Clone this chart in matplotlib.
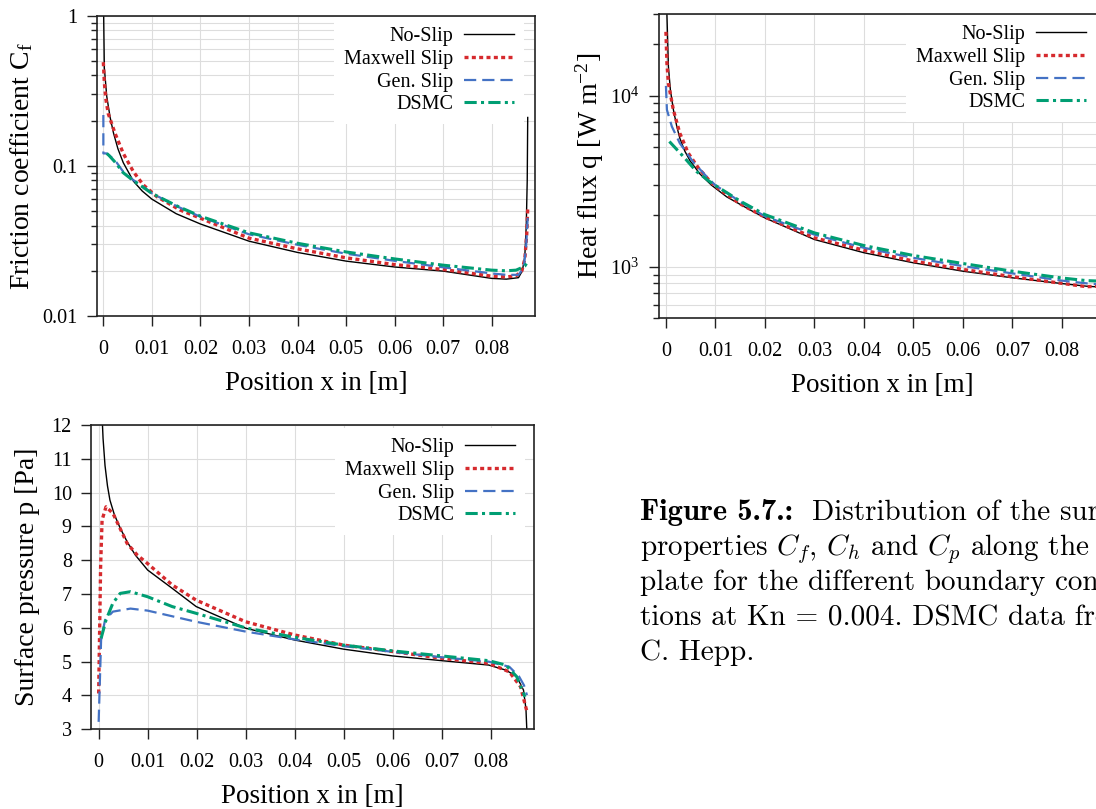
import numpy as np
import matplotlib
matplotlib.use("Agg")
import matplotlib.pyplot as plt
from matplotlib.ticker import LogLocator, NullFormatter

plt.rcParams['font.family'] = ['Liberation Serif', 'DejaVu Serif']
plt.rcParams['mathtext.fontset'] = 'custom'
plt.rcParams['mathtext.rm'] = 'Liberation Serif'
plt.rcParams['mathtext.it'] = 'Liberation Serif:italic'

labels = ['No-Slip', 'Maxwell Slip', 'Gen. Slip', 'DSMC']
x_ticks = [0, 0.01, 0.02, 0.03, 0.04, 0.05, 0.06, 0.07, 0.08]
x_ticklabels = ['0', '0.01', '0.02', '0.03', '0.04', '0.05', '0.06', '0.07', '0.08']

# friction coefficient
cf_x_noslip = [0.0, 0.0002, 0.0007, 0.0014, 0.0021, 0.003, 0.0041, 0.0062, 0.008, 0.01, 0.015, 0.02,
               0.03, 0.04, 0.05, 0.06, 0.07, 0.08, 0.083, 0.0855, 0.0863, 0.0868, 0.0871, 0.0873, 0.0874]
cf_noslip = [1.5, 0.45, 0.29, 0.21, 0.165, 0.13, 0.105, 0.079, 0.068, 0.06, 0.048, 0.041,
             0.0315, 0.0265, 0.0232, 0.0212, 0.0199, 0.0178, 0.0176, 0.018, 0.020, 0.025, 0.04, 0.08, 0.21]
cf_x_maxwell = [0.0, 0.0002, 0.0005, 0.001, 0.0024, 0.0041, 0.0062, 0.0082, 0.011, 0.0158, 0.02, 0.03,
                0.04, 0.05, 0.06, 0.07, 0.08, 0.083, 0.085, 0.0862, 0.0868, 0.0872, 0.0874]
cf_maxwell = [0.49, 0.36, 0.28, 0.223, 0.165, 0.121, 0.0913, 0.0748, 0.0624, 0.0508, 0.0448, 0.033,
              0.028, 0.0244, 0.022, 0.0204, 0.0184, 0.0182, 0.0185, 0.020, 0.024, 0.035, 0.052]
cf_x_gen = [0.0, 0.0, 0.0007, 0.0024, 0.0041, 0.0062, 0.0082, 0.01, 0.0153, 0.02, 0.03, 0.04, 0.05,
            0.06, 0.07, 0.08, 0.083, 0.0855, 0.0866, 0.0871, 0.0874]
cf_gen = [0.218, 0.121, 0.121, 0.109, 0.0913, 0.0803, 0.0727, 0.0656, 0.0535, 0.0458, 0.035, 0.0298,
          0.026, 0.0233, 0.0211, 0.0192, 0.0188, 0.0188, 0.021, 0.03, 0.045]
cf_x_dsmc = [0.0007, 0.0012, 0.0024, 0.0041, 0.0062, 0.0082, 0.01, 0.0153, 0.02, 0.03, 0.04, 0.05,
             0.06, 0.07, 0.08, 0.083, 0.085, 0.0862, 0.0868, 0.0872]
cf_dsmc = [0.121, 0.117, 0.106, 0.090, 0.0795, 0.072, 0.0655, 0.0538, 0.0462, 0.0358, 0.0305, 0.0267,
           0.024, 0.0218, 0.0202, 0.02, 0.0202, 0.021, 0.0215, 0.0225]

# heat flux
q_x_noslip = [0.0002, 0.0005, 0.0009, 0.0015, 0.0022, 0.0028, 0.0038, 0.0049, 0.0069, 0.0092, 0.0123,
              0.017, 0.02, 0.03, 0.04, 0.05, 0.06, 0.07, 0.08, 0.085, 0.0875]
q_noslip = [30000, 14800, 10800, 8300, 6600, 5650, 4750, 4150, 3480, 3000, 2560,
            2150, 1930, 1443, 1208, 1055, 942, 862, 798, 770, 762]
q_x_maxwell = [0.0, 0.0002, 0.0005, 0.0015, 0.0028, 0.0045, 0.0065, 0.0092, 0.0109, 0.015, 0.02, 0.03,
               0.04, 0.05, 0.06, 0.07, 0.08, 0.085, 0.0875]
q_maxwell = [23600, 15500, 11800, 8260, 6040, 4620, 3800, 3090, 2820, 2330, 1950, 1476,
             1250, 1080, 965, 875, 800, 765, 770]
q_x_gen = [0.0, 0.0002, 0.0012, 0.0028, 0.0055, 0.0082, 0.0099, 0.015, 0.02, 0.03, 0.04, 0.05,
           0.06, 0.07, 0.08, 0.085, 0.0875]
q_gen = [11400, 8260, 6600, 5275, 4100, 3370, 3010, 2400, 1973, 1541, 1291, 1128,
         1009, 915, 830, 800, 790]
q_x_dsmc = [0.0007, 0.0035, 0.0062, 0.0092, 0.015, 0.02, 0.03, 0.04, 0.05, 0.06, 0.07, 0.08, 0.085, 0.0875]
q_dsmc = [5395, 4414, 3600, 3090, 2420, 2018, 1578, 1331, 1164, 1045, 942, 860, 830, 825]

# surface pressure
p_x_noslip = [0.0006, 0.0009, 0.0013, 0.0018, 0.0023, 0.0032, 0.0044, 0.0058, 0.0075, 0.01, 0.015, 0.0199,
              0.03, 0.04, 0.05, 0.06, 0.07, 0.0796, 0.0831, 0.0853, 0.0867, 0.0872, 0.0874]
p_noslip = [12.6, 11.6, 10.8, 10.2, 9.78, 9.35, 8.95, 8.55, 8.15, 7.71, 7.17, 6.63,
            5.99, 5.64, 5.37, 5.17, 5.03, 4.90, 4.75, 4.56, 4.16, 3.6, 2.9]
p_x_maxwell = [0.0, 0.0004, 0.0007, 0.0015, 0.0029, 0.005, 0.0058, 0.0079, 0.01, 0.015, 0.0199, 0.03,
               0.04, 0.05, 0.06, 0.07, 0.0796, 0.0838, 0.0861, 0.0874]
p_maxwell = [4.06, 7.81, 9.19, 9.58, 9.39, 8.75, 8.5, 8.15, 7.9, 7.27, 6.82, 6.18,
             5.79, 5.49, 5.30, 5.10, 4.95, 4.70, 4.26, 3.52]
p_x_gen = [0.0, 0.0005, 0.0013, 0.0029, 0.0065, 0.01, 0.0199, 0.03, 0.04, 0.05, 0.06, 0.07,
           0.0796, 0.0838, 0.0858, 0.0868, 0.0874]
p_gen = [3.22, 5.64, 6.23, 6.48, 6.57, 6.51, 6.18, 5.89, 5.66, 5.46, 5.29, 5.13,
         5.00, 4.85, 4.56, 4.3, 4.01]
p_x_dsmc = [0.0005, 0.0015, 0.0029, 0.0044, 0.0065, 0.01, 0.015, 0.0199, 0.03, 0.04, 0.05, 0.06,
            0.07, 0.0796, 0.0831, 0.0853, 0.087]
p_dsmc = [5.69, 6.23, 6.73, 7.02, 7.07, 6.92, 6.63, 6.43, 6.00, 5.72, 5.49, 5.32,
          5.17, 5.03, 4.90, 4.56, 3.96]

styles = [
    dict(color='black', lw=1.0, ls='-'),
    dict(color='#d62a2e', lw=2.4, ls=(0, (1.2, 1.0))),
    dict(color='#4472c4', lw=1.6, ls=(0, (5.5, 2.7))),
    dict(color='#009e73', lw=2.2, ls=(0, (4, 1.4, 1, 1.4))),
]

W, H = 1096, 809
fig = plt.figure(figsize=(W / 100, H / 100), dpi=100)


def px_axes(left, right, top, bottom):
    return fig.add_axes([left / W, 1 - bottom / H, (right - left) / W, (bottom - top) / H])


def style_axes(ax, logy):
    for s in ax.spines.values():
        s.set_linewidth(1.2)
        s.set_color('#222222')
    ax.tick_params(which='major', direction='out', length=7, width=1, labelsize=14.5, pad=7, color='#222222')
    ax.tick_params(which='minor', direction='out', length=4.5, width=1, color='#222222')
    ax.tick_params(axis='x', pad=10)
    ax.set_xticks(x_ticks)
    ax.set_xticklabels(x_ticklabels)
    ax.grid(True, which='major', color='#dddddd', lw=0.8)
    if logy:
        ax.grid(True, which='minor', axis='y', color='#dddddd', lw=0.8)
    ax.set_xlabel('Position x in [m]', fontsize=19.5, labelpad=9)
    ax.set_axisbelow(True)


def add_legend(ax, anchor):
    leg = ax.legend(labels, loc='upper right', bbox_to_anchor=anchor, bbox_transform=fig.transFigure,
                    markerfirst=False, fontsize=14.5, handlelength=2.5, handletextpad=0.5,
                    labelspacing=0.18, borderpad=0.5, frameon=True, fancybox=False)
    leg.get_frame().set_facecolor('white')
    leg.get_frame().set_edgecolor('none')
    leg.get_frame().set_alpha(1)


# friction coefficient
ax1 = px_axes(96.7, 535, 15.7, 316)
for xs, ys, st in zip([cf_x_noslip, cf_x_maxwell, cf_x_gen, cf_x_dsmc],
                      [cf_noslip, cf_maxwell, cf_gen, cf_dsmc], styles):
    ax1.plot(xs, ys, **st)
ax1.set_yscale('log')
ax1.set_ylim(0.01, 1)
ax1.set_xlim(-0.00137, 0.0889)
ax1.set_yticks([0.01, 0.1, 1])
ax1.set_yticklabels(['0.01', '0.1', '1'])
ax1.yaxis.set_minor_locator(LogLocator(base=10, subs=np.arange(2, 10)))
ax1.yaxis.set_minor_formatter(NullFormatter())
style_axes(ax1, True)
ax1.set_ylabel(r'Friction coefficient C$_\mathrm{f}$', fontsize=20, labelpad=5)
add_legend(ax1, (534 / W, 1 - 7 / H))

# heat flux
ax2 = px_axes(658.5, 1106.5, 14, 318.3)
for xs, ys, st in zip([q_x_noslip, q_x_maxwell, q_x_gen, q_x_dsmc],
                      [q_noslip, q_maxwell, q_gen, q_dsmc], styles):
    ax2.plot(xs, ys, **st)
ax2.set_yscale('log')
ax2.set_ylim(500, 30000)
ax2.set_xlim(-0.0015, 0.089)
ax2.yaxis.set_major_locator(LogLocator(base=10))
ax2.yaxis.set_minor_locator(LogLocator(base=10, subs=np.arange(2, 10)))
ax2.yaxis.set_minor_formatter(NullFormatter())
style_axes(ax2, True)
ax2.set_ylabel(r'Heat flux q [W m$^{\mathrm{-2}}$]', fontsize=20, labelpad=3)
add_legend(ax2, (1106 / W, 1 - 5 / H))

# surface pressure
ax3 = px_axes(91.3, 533.8, 425, 729.3)
for xs, ys, st in zip([p_x_noslip, p_x_maxwell, p_x_gen, p_x_dsmc],
                      [p_noslip, p_maxwell, p_gen, p_dsmc], styles):
    ax3.plot(xs, ys, **st)
ax3.set_ylim(3, 12)
ax3.set_xlim(-0.0015, 0.0888)
ax3.set_yticks(range(3, 13))
style_axes(ax3, False)
ax3.set_ylabel('Surface pressure p [Pa]', fontsize=20, labelpad=8)
add_legend(ax3, (535 / W, 1 - 418 / H))

# caption
cap_x = 640 / W
cap_font = dict(fontsize=21, family='cmr10', math_fontfamily='cm', va='baseline')
fig.text(cap_x, 1 - 520 / H, 'Figure 5.7.:', fontsize=22, family='cmb10', va='baseline')
fig.text(812 / W, 1 - 520 / H, 'Distribution of the surface', **cap_font)
cap_lines = [
    r'properties $C_f$, $C_h$ and $C_p$ along the flat',
    'plate for the different boundary condi-',
    'tions at Kn = 0.004. DSMC data from',
    'C. Hepp.',
]
for i, line in enumerate(cap_lines):
    fig.text(cap_x, 1 - (555 + 35 * i) / H, line, **cap_font)

fig.savefig('out.png', dpi=100)
